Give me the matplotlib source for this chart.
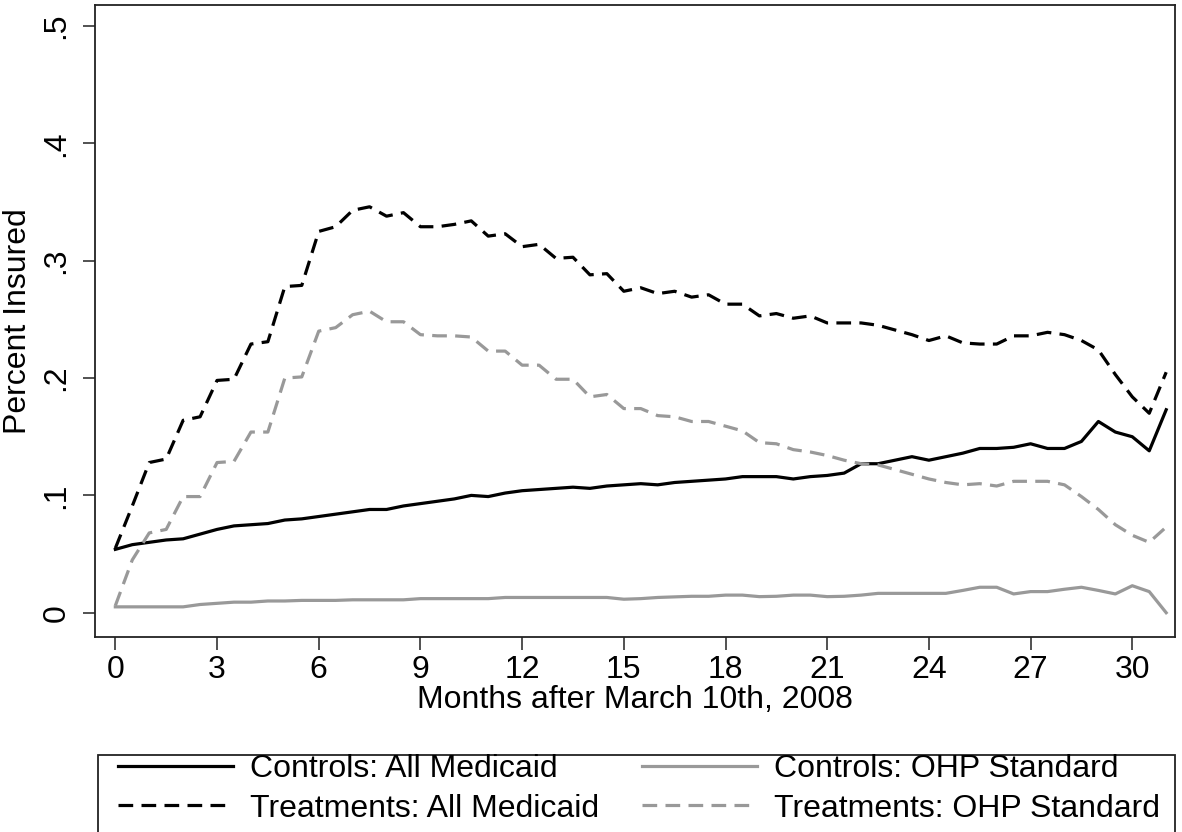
import numpy as np
import matplotlib
matplotlib.use("Agg")
import matplotlib.pyplot as plt
from matplotlib.patches import Rectangle

plt.rcParams["font.family"] = ["Liberation Sans", "DejaVu Sans"]

# Half-month grid, months after March 10th 2008
months = np.arange(0, 31.5, 0.5)

controls_all = [
    0.054, 0.058, 0.060, 0.062, 0.063, 0.067, 0.071, 0.074, 0.075, 0.076,
    0.079, 0.080, 0.082, 0.084, 0.086, 0.088, 0.088, 0.091, 0.093, 0.095,
    0.097, 0.100, 0.099, 0.102, 0.104, 0.105, 0.106, 0.107, 0.106, 0.108,
    0.109, 0.110, 0.109, 0.111, 0.112, 0.113, 0.114, 0.116, 0.116, 0.116,
    0.114, 0.116, 0.117, 0.119, 0.127, 0.127, 0.130, 0.133, 0.130, 0.133,
    0.136, 0.140, 0.140, 0.141, 0.144, 0.140, 0.140, 0.146, 0.163, 0.154,
    0.150, 0.138, 0.173,
]
controls_ohp = [
    0.005, 0.005, 0.005, 0.005, 0.005, 0.007, 0.008, 0.009, 0.009, 0.010,
    0.010, 0.0105, 0.0105, 0.0105, 0.011, 0.011, 0.011, 0.011, 0.012, 0.012,
    0.012, 0.012, 0.012, 0.013, 0.013, 0.013, 0.013, 0.013, 0.013, 0.013,
    0.0115, 0.012, 0.013, 0.0135, 0.014, 0.014, 0.015, 0.015, 0.0137, 0.014,
    0.015, 0.015, 0.0137, 0.014, 0.015, 0.0165, 0.0165, 0.0165, 0.0165, 0.0165,
    0.019, 0.0217, 0.0217, 0.016, 0.018, 0.018, 0.020, 0.0217, 0.019, 0.016,
    0.023, 0.018, 0.000,
]
treat_all = [
    0.055, 0.091, 0.128, 0.131, 0.164, 0.167, 0.198, 0.199, 0.229, 0.231,
    0.278, 0.279, 0.325, 0.329, 0.343, 0.346, 0.338, 0.341, 0.329, 0.329,
    0.331, 0.334, 0.321, 0.323, 0.312, 0.314, 0.302, 0.303, 0.288, 0.289,
    0.274, 0.277, 0.272, 0.274, 0.269, 0.271, 0.263, 0.263, 0.253, 0.255,
    0.251, 0.253, 0.247, 0.247, 0.247, 0.245, 0.241, 0.237, 0.232, 0.236,
    0.230, 0.229, 0.229, 0.236, 0.236, 0.239, 0.237, 0.232, 0.224, 0.203,
    0.184, 0.170, 0.205,
]
treat_ohp = [
    0.006, 0.045, 0.068, 0.071, 0.099, 0.099, 0.128, 0.129, 0.154, 0.154,
    0.200, 0.201, 0.240, 0.243, 0.254, 0.257, 0.248, 0.248, 0.237, 0.236,
    0.236, 0.235, 0.223, 0.223, 0.211, 0.211, 0.199, 0.199, 0.184, 0.186,
    0.174, 0.174, 0.168, 0.167, 0.163, 0.163, 0.159, 0.155, 0.145, 0.144,
    0.139, 0.137, 0.134, 0.130, 0.127, 0.126, 0.122, 0.118, 0.114, 0.111,
    0.109, 0.110, 0.108, 0.112, 0.112, 0.112, 0.109, 0.099, 0.088, 0.075,
    0.066, 0.060, 0.073,
]

x_ticks = [0, 3, 6, 9, 12, 15, 18, 21, 24, 27, 30]
y_ticks = [0, 0.1, 0.2, 0.3, 0.4, 0.5]
y_ticklabels = ["0", ".1", ".2", ".3", ".4", ".5"]

W, H = 1182, 832
FS = 23
GRAY = "#999999"
dash = (0, (4.6, 2.6))

fig = plt.figure(figsize=(W / 100, H / 100), dpi=100)
ax = fig.add_axes([95 / W, 1 - 637 / H, (1175 - 95) / W, (637 - 5) / H])

ax.plot(months, controls_all, color="black", lw=2.3, label="Controls: All Medicaid")
ax.plot(months, controls_ohp, color=GRAY, lw=2.3, label="Controls: OHP Standard")
ax.plot(months, treat_all, color="black", lw=2.3, linestyle=dash,
        label="Treatments: All Medicaid")
ax.plot(months, treat_ohp, color=GRAY, lw=2.3, linestyle=dash,
        label="Treatments: OHP Standard")

ax.set_xlim(-0.6, 31.26)
ax.set_ylim(-0.0207, 0.518)
ax.set_xticks(x_ticks)
ax.set_yticks(y_ticks)
ax.set_yticklabels(y_ticklabels, rotation=90, va="center")
ax.tick_params(axis="both", labelsize=FS, length=9, width=1.2, color="#333333")
ax.tick_params(axis="x", pad=4)
ax.tick_params(axis="y", pad=8)
for s in ax.spines.values():
    s.set_color("#222222")
    s.set_linewidth(1.3)

ax.set_xlabel("Months after March 10th, 2008", fontsize=FS, labelpad=0)
ax.set_ylabel("Percent Insured", fontsize=FS, labelpad=6)

# legend box drawn separately, runs off the bottom edge like the original
fig.patches.append(Rectangle((98 / W, -0.05), (1175 - 98) / W, 0.05 + 1 - 755 / H,
                             transform=fig.transFigure, fill=False,
                             edgecolor="#222222", lw=1.3))

# legend rows: controls on top, treatments below (matplotlib fills by column)
handles, labels = ax.get_legend_handles_labels()
order = [0, 2, 1, 3]
leg = fig.legend(
    [handles[i] for i in order], [labels[i] for i in order],
    ncol=2, loc="upper left", bbox_to_anchor=(118 / W, 1 - 754 / H),
    fontsize=FS, frameon=False, handlelength=3.6,
    handletextpad=0.53, columnspacing=1.35, borderpad=0, labelspacing=0.3,
    borderaxespad=0,
)

fig.savefig("out.png", dpi=100)
